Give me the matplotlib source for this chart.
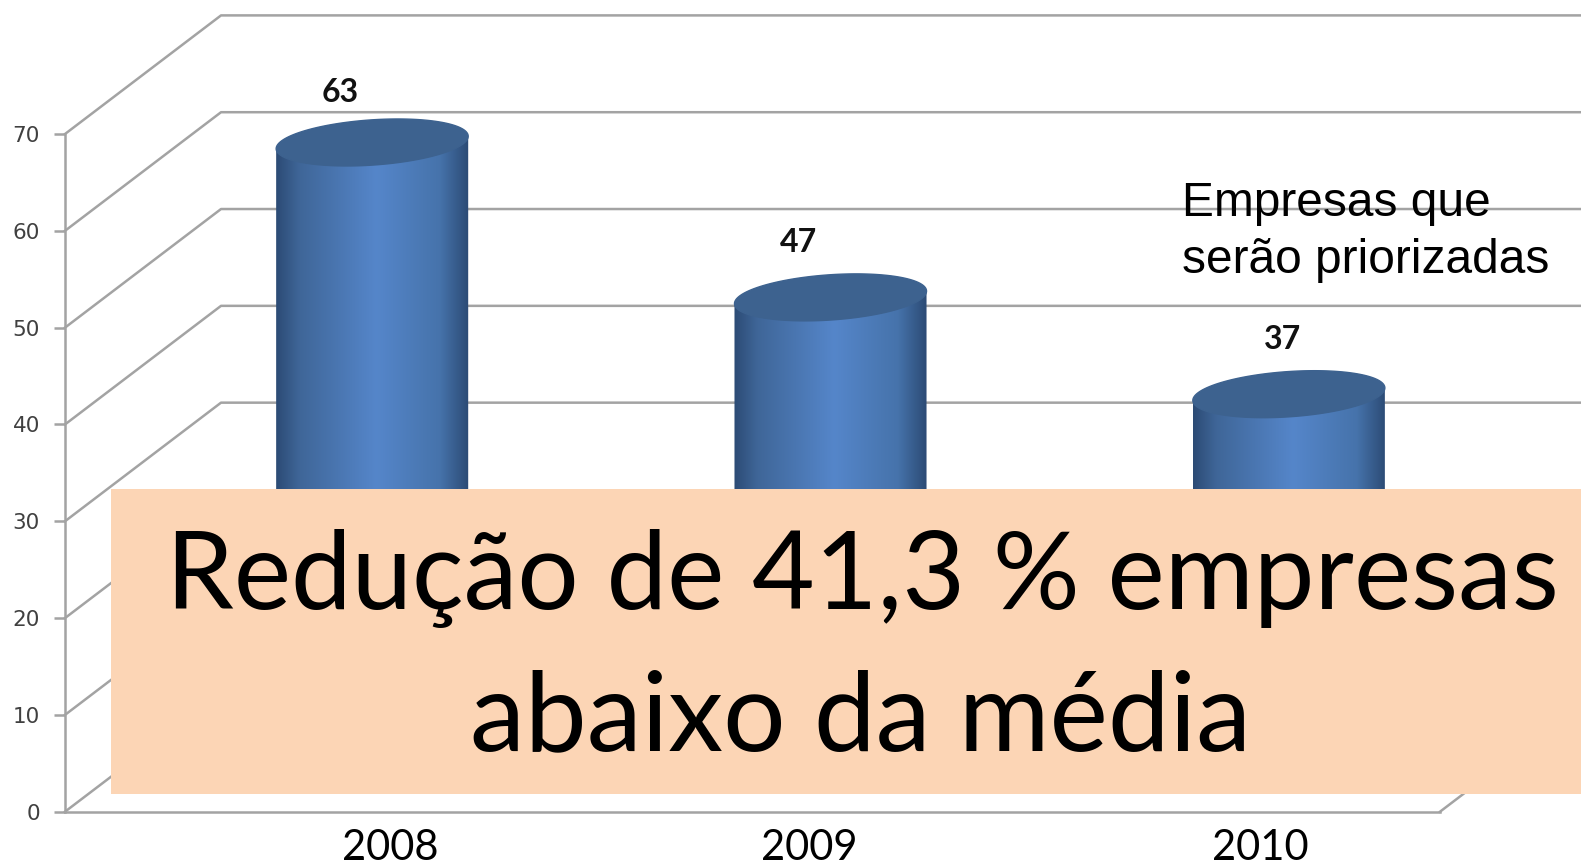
import numpy as np
import matplotlib
matplotlib.use('Agg')
import matplotlib.pyplot as plt
from matplotlib.colors import LinearSegmentedColormap
from matplotlib.patches import Rectangle, Polygon

years=['2008','2009','2010']
values=[63,47,37]
y_ticks=[0,10,20,30,40,50,60,70]
label_dx=[0.10,0.10,0.157]
label_dy=[11.3,11.8,11.8]
year_x=[390,809,1260]

W,H=1581,864
GRID='#a3a3a3'

fig=plt.figure(figsize=(W/100,H/100),dpi=100,facecolor='white')
#front plane of the fake 3d chart
ax=fig.add_axes([65/W,(H-811.7)/H,1375/W,677.7/H])
ax.set_xlim(0,3)
ax.set_ylim(0,70)

#depth of the box, in data units
depth_x=0.3404
depth_y=12.25

for v in y_ticks:
    ax.plot([0,depth_x,4],[v,v+depth_y,v+depth_y],color=GRID,lw=1.8,clip_on=False,zorder=1)
ax.plot([3,3+depth_x],[0,depth_y],color=GRID,lw=1.8,clip_on=False,zorder=1)

#cylinders
cmap=LinearSegmentedColormap.from_list('cyl',[(0,'#2c4b75'),(0.12,'#3f6698'),(0.52,'#5586ca'),(0.85,'#4673ab'),(1,'#2c4b75')])
grad=np.linspace(0,1,256).reshape(1,-1)
t=np.linspace(0,2*np.pi,200)
for i,v in enumerate(values):
    cx=i+0.5+depth_x/2
    cy=v+depth_y/2
    rx=0.2095
    tilt=0.646
    ry=2.34
    ex=cx+rx*np.cos(t)
    ey=cy+tilt*np.cos(t)+ry*np.sin(t)
    base=depth_y/2
    body=Polygon([(cx-rx,cy-tilt),(cx+rx,cy+tilt),(cx+rx,base),(cx-rx,base)],transform=ax.transData,fc='none',ec='none')
    ax.add_patch(body)
    im=ax.imshow(grad,cmap=cmap,extent=[cx-rx,cx+rx,base,cy+tilt+1],aspect='auto',zorder=2)
    im.set_clip_path(body)
    ax.fill(ex,ey,color='#3d628f',zorder=3,clip_on=False)
    ax.text(i+0.5+label_dx[i],v+label_dy[i],str(v),ha='center',va='center',fontsize=23,fontweight='bold',
            family='Lato',color='#111111',clip_on=False)

ax.set_xlim(0,3)
ax.set_ylim(0,70)

for s in ['top','right']:
    ax.spines[s].set_visible(False)
ax.spines['left'].set_color(GRID)
ax.spines['bottom'].set_color(GRID)
ax.spines['left'].set_linewidth(1.8)
ax.spines['bottom'].set_linewidth(1.8)
ax.patch.set_alpha(0)
ax.set_xticks([])
ax.set_yticks(y_ticks)
ax.tick_params(axis='y',length=8,width=1.8,color=GRID,labelsize=15.5,labelcolor='#404040',pad=10)

#overlay box
fig.patches.append(Rectangle((111/W,(H-793.7)/H),(W-111)/W,304.7/H,transform=fig.transFigure,fc='#fcd5b5',ec='none',zorder=5))
fig.text(862/W,1-578/H,'Redução de 41,3 % empresas',ha='center',va='center',fontsize=78,family='Lato',color='black',zorder=6)
fig.text(861/W,1-719/H,'abaixo da média',ha='center',va='center',fontsize=79.5,family='Lato',color='black',zorder=6)

fig.text(1182/W,1-232/H,'Empresas que\nserão priorizadas',ha='left',va='center',fontsize=34.5,family='Liberation Sans',
         color='black',linespacing=1.36,zorder=6)

for yr,xp in zip(years,year_x):
    fig.text(xp/W,1-848/H,yr,ha='center',va='center',fontsize=30,family='Lato',color='black',zorder=6)

fig.savefig('out.png',dpi=100)
